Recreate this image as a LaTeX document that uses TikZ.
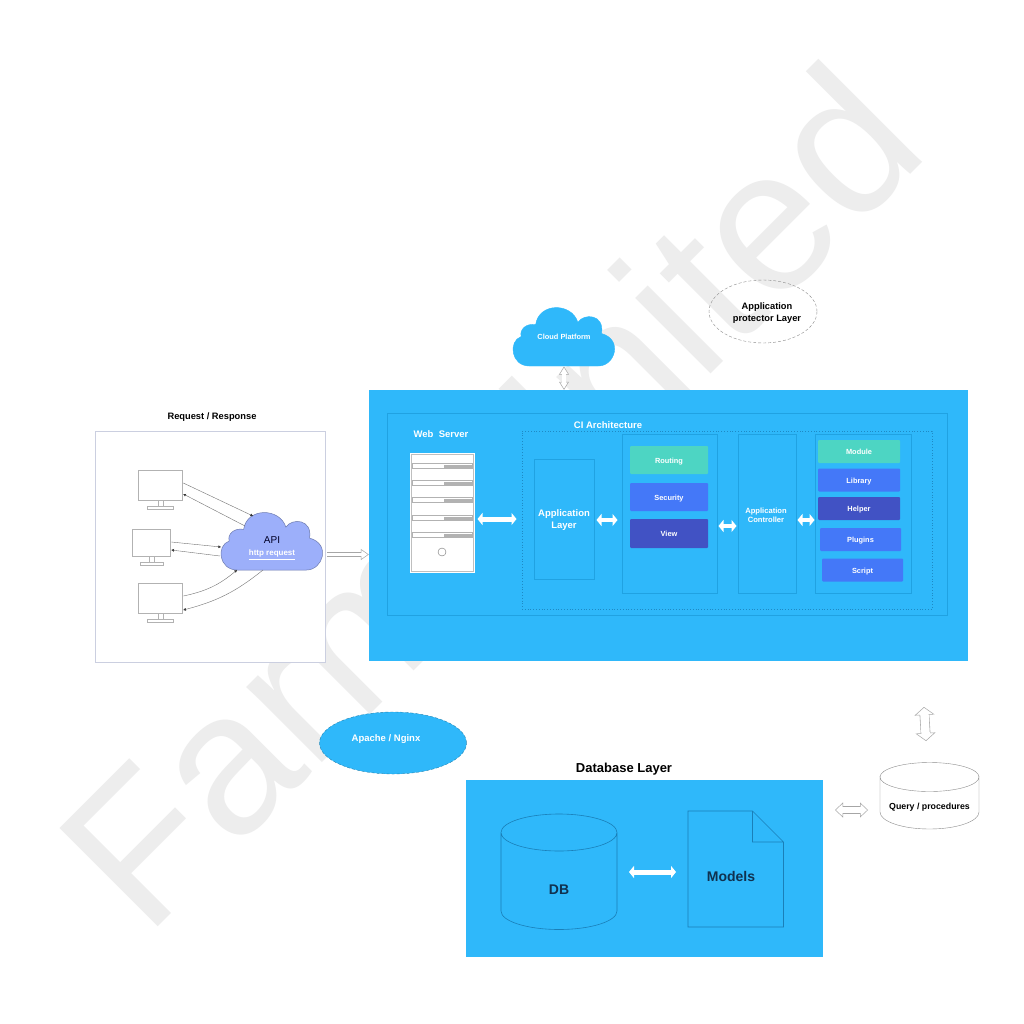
\documentclass[tikz,border=0pt]{standalone}
\usepackage{fontspec}
\setmainfont{Liberation Sans}
\usepackage{tikz}
\usetikzlibrary{arrows.meta,calc,positioning,shapes.geometric}
\definecolor{myblue}{HTML}{2FB8FA}
\definecolor{mystroke}{HTML}{20A2E2}
\definecolor{myline}{HTML}{1A7FB8}
\definecolor{myteal}{HTML}{4DD5C3}
\definecolor{mymid}{HTML}{4478F8}
\definecolor{mydark}{HTML}{4152C4}
\definecolor{mypurple}{HTML}{9CAFFA}
\definecolor{myink}{HTML}{10314F}
\definecolor{mywater}{HTML}{EDEDED}
\definecolor{myframe}{HTML}{CBCFE0}
\tikzset{
    mylabel/.style={font=\fontsize{#1}{12}\selectfont\bfseries,inner sep=0pt,align=center},
    whitelabel/.style={mylabel=#1,text=white},
    mypanel/.style={draw=mystroke,line width=1pt,inner sep=0pt,minimum width=#1},
    mychip/.style={rounded corners=1pt,inner sep=0pt,text=white,text height=6.5pt,text depth=0pt,font=\fontsize{7.4}{9}\selectfont\bfseries},
    myscreen/.style={draw=black!30,line width=1.6pt,fill=white,inner sep=0pt},
    mythin/.style={draw=black!55,line width=0.4pt,-{Triangle[length=2.6pt,width=2.6pt,black!80]}},
    mywhite/.style={white,line width=#1,{Triangle[length=5pt,width=12pt]}-{Triangle[length=5pt,width=12pt]}},
    myhollow/.style={draw=black!35,line width=#1+1.2pt,
      {Triangle[open,length=8pt,width=#1*2+3pt,fill=white,line width=0.5pt]}-{Triangle[open,length=8pt,width=#1*2+3pt,fill=white,line width=0.5pt]},
      postaction={draw=white,line width=#1,arrows=-,shorten <=5pt,shorten >=5pt}},
    myhollowr/.style={draw=black!35,line width=4.6pt,
      -{Triangle[open,length=8pt,width=11pt,fill=white,line width=0.5pt]},
      postaction={draw=white,line width=3.4pt,arrows=-,shorten >=5pt}}
}
\newcommand{\mycloudshape}{
  (.148,1) -- (.82,1) .. controls (.98,1) and (1.06,.55) .. (.85,.45)
  .. controls (.88,.12) and (.68,.1) .. (.62,.26)
  .. controls (.56,-.08) and (.24,-.08) .. (.21,.3)
  .. controls (.12,.27) and (.05,.38) .. (.07,.5)
  .. controls (-.06,.58) and (-.03,1) .. (.148,1) -- cycle}
\begin{document}
\begin{tikzpicture}[x=1pt,y=-1pt]
  \useasboundingbox (0,0) rectangle (1024,1024);
  \fill[white] (0,0) rectangle (1024,1024);

  % watermark
  \node[rotate=45,anchor=base west,inner sep=0pt,text=mywater,font=\fontsize{202}{202}\selectfont]
    (water) at (146,939) {Farm United};

  % request side
  \node[draw=myframe,line width=1pt,fill=white,minimum width=230,minimum height=231,inner sep=0pt]
    (reqbox) at (210,546.5) {};
  \node[mylabel=9.3,above=9pt of reqbox.north,xshift=2pt] (reqtitle) {Request / Response};

  \node[myscreen,minimum width=44,minimum height=30] (mon1) at (160.5,485.5) {};
  \node[myscreen,minimum width=38,minimum height=27] (mon2) at (151.5,543) {};
  \node[myscreen,minimum width=44,minimum height=30] (mon3) at (160.5,598.5) {};
  \foreach \m/\w in {mon1/13,mon2/11.5,mon3/13}{
    \draw[black!30,line width=0.8pt] ([xshift=-2.5pt]\m.south) -- ++(0,5) ([xshift=2.5pt]\m.south) -- ++(0,5);
    \draw[black!30,line width=0.8pt,fill=white] ([shift={(-\w pt,-5pt)}]\m.south) rectangle ([shift={(\w pt,-8pt)}]\m.south);
  }

  \draw[fill=mypurple,draw=black!30!mypurple,line width=0.5pt,xshift=222pt,yshift=-512pt,x=103pt,y=-58pt] \mycloudshape;
  \node[inner sep=0pt,font=\fontsize{10}{12}\selectfont,text=black!85!blue] (apitxt) at (272,540) {API};
  \node[whitelabel=8,below=6pt of apitxt] (httptxt) {\underline{http request}};

  \coordinate (api1) at (253,516);
  \coordinate (api2) at (245,526);
  \coordinate (api3) at (221,547);
  \coordinate (api4) at (220,556);
  \coordinate (api5) at (237,570);
  \coordinate (api6) at (263,570);
  \draw[mythin] ([yshift=2.5pt]mon1.east) -- (api1);
  \draw[mythin] (api2) -- ([yshift=-8.5pt]mon1.east);
  \draw[mythin] ([yshift=1pt]mon2.east) -- (api3);
  \draw[mythin] (api4) -- ([yshift=-7pt]mon2.east);
  \draw[mythin] ([yshift=2.5pt]mon3.east) to[bend right=14] (api5);
  \draw[mythin] (api6) to[bend left=12] ([yshift=-11.5pt]mon3.east);

  % main block
  \node[fill=myblue,minimum width=599,minimum height=271,inner sep=0pt] (mainbox) at (668.5,525.5) {};
  \node[mypanel=559.5,minimum height=202] (innerbox) at (667.5,514) {};
  \node[mypanel=410,minimum height=178,draw=myline!80!myblue,line width=0.8pt,dotted] (cibox) at (727,520) {};
  \node[whitelabel=9.5] (cititle) at (608,425) {CI Architecture};
  \node[whitelabel=9.5] (webtitle) at (441,434) {Web\ \ Server};

  % server
  \node[fill=white,draw=white,line width=1pt,minimum width=64,minimum height=119,inner sep=0pt] (server) at (442,512.5) {};
  \draw[black!25,line width=0.5pt] ([shift={(1.5pt,-1.5pt)}]server.north west) rectangle ([shift={(-1.5pt,1.5pt)}]server.south east);
  \foreach \y in {466,483,500,518,535}{
    \draw[black!30,line width=0.5pt,fill=white] (412,\y-2.5) rectangle (472,\y+2.5);
    \fill[black!30] (444,\y-1.5) rectangle (472,\y+1.5);
  }
  \draw[black!55,line width=0.4pt] (442,552) circle (4);

  % boxes inside
  \node[mypanel=60,minimum height=120] (applayer) at (564,519) {};
  \node[whitelabel=9.5] (applaytxt) at (564,520) {Application\\Layer};
  \node[mypanel=95,minimum height=159] (midbox) at (669.5,513.5) {};
  \node[mypanel=58,minimum height=159] (ctrlbox) at (767,513.5) {};
  \node[whitelabel=7.6] (ctrltxt) at (766,515) {Application\\[-3pt]Controller};
  \node[mypanel=96,minimum height=159] (rightbox) at (863,513.5) {};

  \node[mychip,fill=myteal,minimum width=78,minimum height=28] (routing) at (669,460) {Routing};
  \node[mychip,fill=mymid,minimum width=78,minimum height=28] (security) at (669,497) {Security};
  \node[mychip,fill=mydark,minimum width=78,minimum height=29] (view) at (669,533.5) {View};

  \node[mychip,fill=myteal,minimum width=82,minimum height=23] (module) at (859,451.5) {Module};
  \node[mychip,fill=mymid,minimum width=82,minimum height=23] (library) at (859,480) {Library};
  \node[mychip,fill=mydark,minimum width=82,minimum height=23] (helper) at (859,508.5) {Helper};
  \node[mychip,fill=mymid,minimum width=81,minimum height=23] (plugins) at (860.5,539.5) {Plugins};
  \node[mychip,fill=mymid,minimum width=81,minimum height=23] (script) at (862.5,570) {Script};

  \draw[mywhite=5pt] ([xshift=3pt]server.east |- 0,519) -- ([xshift=-17pt]applayer.west |- 0,519);
  \draw[mywhite=4.5pt] ([xshift=2pt]applayer.east |- 0,520) -- ([xshift=-4pt]midbox.west |- 0,520);
  \draw[mywhite=4.5pt] ([xshift=1pt]midbox.east |- 0,526) -- ([xshift=-1pt]ctrlbox.west |- 0,526);
  \draw[mywhite=4.5pt] ([xshift=1pt]ctrlbox.east |- 0,520) -- (rightbox.west |- 0,520);

  % top
  \draw[fill=myblue,draw=myblue,xshift=514pt,yshift=-307pt,x=103pt,y=-59pt] \mycloudshape;
  \node[mylabel=7.4,text=white] (cloudtxt) at (564,337) {Cloud Platform};
  \coordinate (cloudfoot) at (564,366.5);
  \draw[myhollow=3.4pt] (cloudfoot) -- (cloudfoot |- mainbox.north);
  \node[ellipse,draw=black!45,densely dashed,line width=0.4pt,minimum width=108,minimum height=63,inner sep=0pt] (protect) at (763,311.5) {};
  \node[mylabel=9.3] (protecttxt) at (767,313) {Application\\protector Layer};

  \coordinate (apiright) at (327,554.5);
  \draw[myhollowr] (apiright) -- (apiright -| mainbox.west);

  % apache
  \node[ellipse,fill=myblue,draw=black!30!myblue,densely dashed,line width=0.4pt,minimum width=147,minimum height=62,inner sep=0pt] (apache) at (393,743) {};
  \node[mylabel=9.5,text=white] (apachetxt) at (386,739.5) {Apache / Nginx};

  % database
  \node[fill=myblue,minimum width=357,minimum height=177,inner sep=0pt] (dbbox) at (644.5,868.5) {};
  \node[mylabel=13,above=4pt of dbbox.north,xshift=-20.5pt] (dbtitle) {Database Layer};
  \draw[draw=myline,line width=0.6pt] (501,832.5) arc (180:-180:58 and 18.5)
     (501,832.5) -- (501,911) arc (180:0:58 and 18.5) -- (617,832.5);
  \node[mylabel=14,text=myink] (dbtxt) at (559,890) {DB};
  \draw[draw=myline,line width=0.6pt] (688,811) -- (752.5,811) -- (783.5,842) -- (783.5,927) -- (688,927) -- cycle
     (752.5,811) -- (752.5,842) -- (783.5,842);
  \node[mylabel=14,text=myink] (modeltxt) at (731,876) {Models};
  \coordinate (dbarrowl) at (629,872);
  \coordinate (dbarrowr) at (676,872);
  \draw[mywhite=5pt] (dbarrowl) -- (dbarrowr);

  % query
  \draw[draw=black!45,line width=0.4pt,fill=white] (880,777) -- (880,812) arc (180:0:49.5 and 17) -- (979,777) arc (0:180:49.5 and 14.5) -- cycle;
  \draw[draw=black!45,line width=0.4pt] (880,777) arc (180:360:49.5 and 14.5);
  \node[mylabel=8.8] (querytxt) at (929.5,807.5) {Query / procedures};
  \coordinate (queryleft) at (868,810);
  \coordinate (queryend) at (835,810);
  \draw[myhollow=6pt] (queryleft) -- (queryend);
  \coordinate (querytop) at (926,741);
  \coordinate (querytip) at (924,707);
  \draw[myhollow=8.5pt] (querytop) -- (querytip);
\end{tikzpicture}
\end{document}
